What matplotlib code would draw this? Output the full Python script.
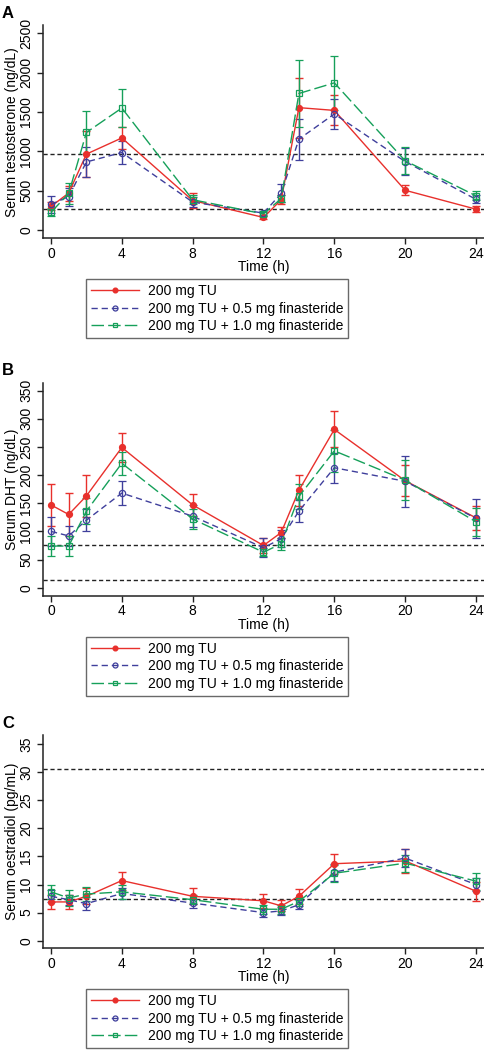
import matplotlib
matplotlib.use("Agg")
import matplotlib.pyplot as plt
from matplotlib.lines import Line2D

plt.rcParams['font.family'] = ['Liberation Sans', 'DejaVu Sans']

times = [0, 1, 2, 4, 8, 12, 13, 14, 16, 20, 24]
series_labels = ["200 mg TU", "200 mg TU + 0.5 mg finasteride", "200 mg TU + 1.0 mg finasteride"]

# Panel A: serum testosterone (ng/dL)
t_red = [300, 470, 965, 1170, 375, 160, 385, 1555, 1520, 505, 265]
t_red_se = [50, 95, 295, 135, 90, 20, 60, 380, 190, 65, 40]
t_blue = [325, 425, 865, 985, 355, 215, 465, 1155, 1475, 870, 390]
t_blue_se = [110, 115, 185, 140, 60, 30, 115, 260, 190, 175, 50]
t_green = [225, 465, 1240, 1550, 385, 205, 400, 1735, 1870, 880, 435]
t_green_se = [50, 130, 270, 245, 60, 25, 50, 420, 340, 170, 55]
t_ref = [970, 263]

# Panel B: serum DHT (ng/dL)
d_red = [147, 130, 163, 249, 147, 75, 98, 173, 281, 190, 124]
d_red_se = [38, 38, 37, 26, 20, 13, 10, 28, 32, 27, 21]
d_blue = [100, 92, 120, 168, 127, 71, 87, 136, 213, 189, 123]
d_blue_se = [26, 18, 20, 22, 20, 17, 15, 20, 27, 45, 35]
d_green = [74, 74, 136, 221, 122, 63, 78, 162, 243, 191, 117]
d_green_se = [17, 17, 23, 20, 18, 7, 11, 22, 37, 35, 25]
d_ref = [76, 13]

# Panel C: serum oestradiol (pg/mL)
e_red = [6.9, 6.9, 7.9, 10.7, 7.9, 7.1, 6.2, 7.9, 13.7, 14.2, 8.8]
e_red_se = [1.2, 1.2, 1.4, 1.6, 1.4, 1.2, 1.0, 1.3, 1.8, 2.1, 1.7]
e_blue = [7.9, 7.3, 6.6, 8.4, 6.7, 5.0, 5.3, 6.4, 12.2, 14.7, 10.0]
e_blue_se = [1.1, 0.9, 1.2, 0.9, 0.8, 0.7, 0.7, 0.8, 1.5, 1.6, 1.2]
e_green = [8.7, 7.6, 8.3, 8.7, 7.3, 5.6, 5.6, 7.0, 12.0, 13.8, 10.6]
e_green_se = [1.3, 1.4, 1.3, 1.2, 0.8, 0.8, 0.8, 0.8, 1.5, 1.5, 1.5]
e_ref = [30.6, 7.5]

xticks = [0, 4, 8, 12, 16, 20, 24]

RED = '#e8302c'
BLUE = '#3f3f9c'
GREEN = '#16a05a'

styles = [
    dict(color=RED, linestyle='-', marker='o', mfc=RED, mec=RED, ms=4.2),
    dict(color=BLUE, linestyle=(0, (4.5, 2.8)), marker='o', mfc='none', mec=BLUE, ms=4.5, mew=0.9),
    dict(color=GREEN, linestyle=(0, (9, 3)), marker='s', mfc='none', mec=GREEN, ms=4.2, mew=0.9),
]

W, H = 485, 1050
fig = plt.figure(figsize=(W / 100, H / 100), dpi=100)

panels = [
    dict(letter='A', top=25.0, bottom=238.3, ylim=(-105, 2605), yticks=[0, 500, 1000, 1500, 2000, 2500],
         ylabel='Serum testosterone (ng/dL)',
         data=[(t_red, t_red_se), (t_blue, t_blue_se), (t_green, t_green_se)], ref=t_ref),
    dict(letter='B', top=382.7, bottom=596.0, ylim=(-14.7, 364), yticks=[0, 50, 100, 150, 200, 250, 300, 350],
         ylabel='Serum DHT (ng/dL)',
         data=[(d_red, d_red_se), (d_blue, d_blue_se), (d_green, d_green_se)], ref=d_ref),
    dict(letter='C', top=735.0, bottom=948.3, ylim=(-1.35, 36.6), yticks=[0, 5, 10, 15, 20, 25, 30, 35],
         ylabel='Serum oestradiol (pg/mL)',
         data=[(e_red, e_red_se), (e_blue, e_blue_se), (e_green, e_green_se)], ref=e_ref),
]

left_px, right_px = 43.0, 485.0
x0_px, x24_px = 51.0, 476.0
ppu = (x24_px - x0_px) / 24.0
xlim = ((left_px - x0_px) / ppu, (right_px - x0_px) / ppu)

for p in panels:
    ax = fig.add_axes([left_px / W, 1 - p['bottom'] / H, (right_px - left_px) / W, (p['bottom'] - p['top']) / H])
    for yr in p['ref']:
        ax.axhline(yr, color='#222222', lw=1.0, ls=(0, (3, 2)), zorder=1)
    for (vals, se), st in zip(p['data'], styles):
        ax.errorbar(times, vals, yerr=se, color=st['color'], ecolor=st['color'], elinewidth=1.0,
                    capsize=3.2, capthick=1.0, lw=1.0, linestyle=st['linestyle'], marker=st['marker'],
                    mfc=st['mfc'], mec=st['mec'], ms=st['ms'], mew=st.get('mew', 1.0), zorder=3)
    ax.set_xlim(*xlim)
    ax.set_ylim(*p['ylim'])
    ax.set_xticks(xticks)
    ax.set_yticks(p['yticks'])
    for s in ['top', 'right']:
        ax.spines[s].set_visible(False)
    for s in ['left', 'bottom']:
        ax.spines[s].set_linewidth(1.1)
        ax.spines[s].set_color('#222222')
    ax.tick_params(axis='both', direction='out', length=4, width=1.0, color='#222222', labelsize=10)
    ax.tick_params(axis='x', pad=2)
    ax.tick_params(axis='y', pad=3)
    for lab in ax.get_yticklabels():
        lab.set_rotation(90)
        lab.set_va('center')
    fig.text(12 / W, 1 - ((p['top'] + p['bottom']) / 2) / H, p['ylabel'], rotation=90,
             ha='center', va='center', fontsize=10)
    fig.text(264 / W, 1 - (p['bottom'] + 28.5) / H, 'Time (h)', ha='center', va='center', fontsize=10)
    fig.text(2 / W, 1 - (p['top'] - 12) / H, p['letter'], ha='left', va='center', fontsize=12,
             fontweight='bold')

    handles = [Line2D([0], [0], color=st['color'], lw=1.0, linestyle=st['linestyle'], marker=st['marker'],
                      mfc=st['mfc'], mec=st['mec'], ms=st['ms'] * 0.8, mew=st.get('mew', 1.0))
               for st in styles]
    leg = fig.legend(handles, series_labels, loc='upper left',
                     bbox_to_anchor=(86 / W, 1 - (p['bottom'] + 41) / H), bbox_transform=fig.transFigure,
                     borderaxespad=0, fontsize=10, frameon=True, fancybox=False, numpoints=1,
                     handlelength=3.5, handletextpad=0.6, labelspacing=0.25, borderpad=0.35)
    leg.get_frame().set_edgecolor('#444444')
    leg.get_frame().set_linewidth(1.0)

fig.savefig('out.png', dpi=100)
